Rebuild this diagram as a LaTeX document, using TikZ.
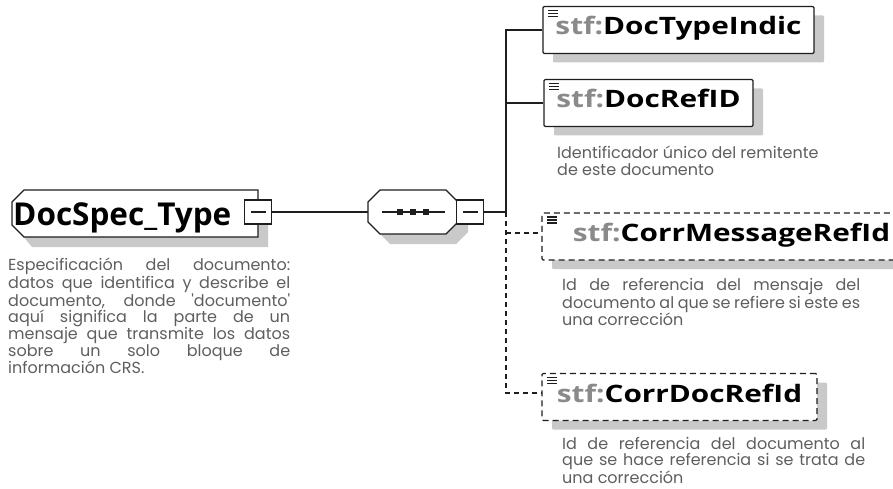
\documentclass[tikz,border=0pt]{standalone}
\usepackage{fontspec}
\setmainfont{Open Sans}
\newfontfamily\descfont{Poppins}
\usetikzlibrary{shadows}
\definecolor{stfgrey}{HTML}{8A8A8A}
\definecolor{descgrey}{HTML}{5E5E5E}
\definecolor{shadowgrey}{HTML}{C9C9C9}
\definecolor{linegrey}{HTML}{1E1E1E}
\newcommand\stfname[1]{\scalebox{1.24}[1]{{\color{stfgrey}stf:}#1}}
\pgfdeclarelayer{background}
\pgfsetlayers{background,main}

\begin{document}
\begin{tikzpicture}[x=1pt,y=-1pt]

    \tikzset{
      elem/.style={
        draw=linegrey,
        line width=1.2pt,
        fill=white,
        rounded corners=1.2pt,
        minimum height=47pt,
        inner sep=0pt,
        font=\fontsize{24}{24}\selectfont\bfseries,
        text height=1em,
        text depth=0pt,
        general shadow={fill=shadowgrey,shadow xshift=10pt,shadow yshift=-9pt},
        path picture={
          \foreach \k in {4,7,10}
            \draw[solid,line width=1.1pt] ([xshift=5pt,yshift=-\k pt]path picture bounding box.north west) -- ++(10pt,0);
        },
      },
      optelem/.style={elem,dash pattern=on 6pt off 4pt},
      outline/.style={draw=linegrey,line width=1.2pt,fill=white},
      minus/.style={
        draw=linegrey,
        line width=1.2pt,
        fill=white,
        minimum width=27pt,
        minimum height=24pt,
        inner sep=0pt,
        path picture={
          \draw[line width=1.1pt] ([xshift=6pt]path picture bounding box.west) -- ([xshift=-6pt]path picture bounding box.east);
        },
      },
      conn/.style={draw=linegrey,line width=1.2pt},
      optconn/.style={conn,dash pattern=on 5pt off 4pt},
      desc/.style={
        anchor=north west,
        inner sep=0pt,
        text=descgrey,
        font=\descfont\fontsize{16}{16.3}\selectfont,
      },
    }
    \useasboundingbox (0,0) rectangle (893,489);
    \clip (0,0) rectangle (893,489);

	% complex type and its sequence
	\node[anchor=base west,inner sep=0pt,font=\fontsize{31.5}{31.5}\selectfont\bfseries] (docspec) at (13,225) {DocSpec\_Type};
	\node[minus] (docspecminus) at (258,212) {};
	\node[minimum width=90pt,minimum height=44pt,inner sep=0pt] (seq) at (413,212) {};
	\node[minus] (seqminus) at (470,212) {};
	\draw[conn] ([xshift=-31pt]seq.center) -- ([xshift=32pt]seq.center);
	\foreach \k in {-13,0,13}
		\fill[linegrey] ([xshift=\k pt]seq.center) +(-3pt,-3pt) rectangle +(3pt,3pt);

	\begin{pgfonlayer}{background}
	\fill[shadowgrey] (32,200) -- (268,200) -- (268,247) -- (32,247) -- (22,235) -- (22,212) -- cycle;
	\draw[outline] (24,190) -- (258,190) -- (258,237) -- (24,237) -- (12,225) -- (12,202) -- cycle;
	\fill[shadowgrey] (390,200) -- (456,200) -- (468,212) -- (468,232) -- (456,244) -- (390,244) -- (378,232) -- (378,212) -- cycle;
	\draw[outline] (380,190) -- (446,190) -- (458,202) -- (458,222) -- (446,234) -- (380,234) -- (368,222) -- (368,202) -- cycle;
	\end{pgfonlayer}

	\node[elem,minimum width=271pt] (typeindic) at (678.5,30) {\stfname{DocTypeIndic}};
	\node[elem,minimum width=209pt] (docrefid) at (648.5,103) {\stfname{DocRefID}};
	\node[optelem,minimum width=379pt] (corrmsg) at (731.5,236.5) {\stfname{CorrMessageRefId}};
	\node[optelem,minimum width=275pt] (corrdoc) at (679.5,397) {\stfname{CorrDocRefId}};

	\coordinate (trunktop) at (506,30);
	\coordinate (trunkref) at (506,103);
	\coordinate (trunkseq) at (506,212);
	\coordinate (trunkmsg) at (506,233);
	\coordinate (trunkcorr) at (506,393);

	\draw[conn] (docspecminus.east) -- (seq.west);
	\draw[conn] (seqminus.east) -- (trunkseq) -- (trunktop) -- (typeindic.west);
	\draw[conn] (trunkref) -- (docrefid.west);
	\draw[optconn] (trunkseq) -- (trunkcorr) -- (trunkcorr -| corrdoc.west);
	\draw[optconn] (trunkmsg) -- (trunkmsg -| corrmsg.west);

	% annotations
	\node[desc,text width=282pt,align=justify] (docspecdesc) at (8,258) {Especificación del documento:\linebreak datos que identifica y describe el\linebreak documento, donde \textquotesingle documento\textquotesingle\linebreak aquí significa la parte de un\linebreak mensaje que transmite los datos\linebreak sobre un solo bloque de\linebreak información CRS.};
	\node[desc,align=left,font=\descfont\fontsize{16}{17}\selectfont] (docrefdesc) at (557,146) {Identificador único del remitente\\de este documento};
	\node[desc,text width=298pt,align=justify,font=\descfont\fontsize{16}{17.5}\selectfont] (corrmsgdesc) at (562,278.5) {Id de referencia del mensaje del\linebreak documento al que se refiere si este es\linebreak una corrección};
	\node[desc,text width=303pt,align=justify,font=\descfont\fontsize{16}{16}\selectfont] (corrdocdesc) at (562,437) {Id de referencia del documento al\linebreak que se hace referencia si se trata de\linebreak una corrección};

\end{tikzpicture}
\end{document}
